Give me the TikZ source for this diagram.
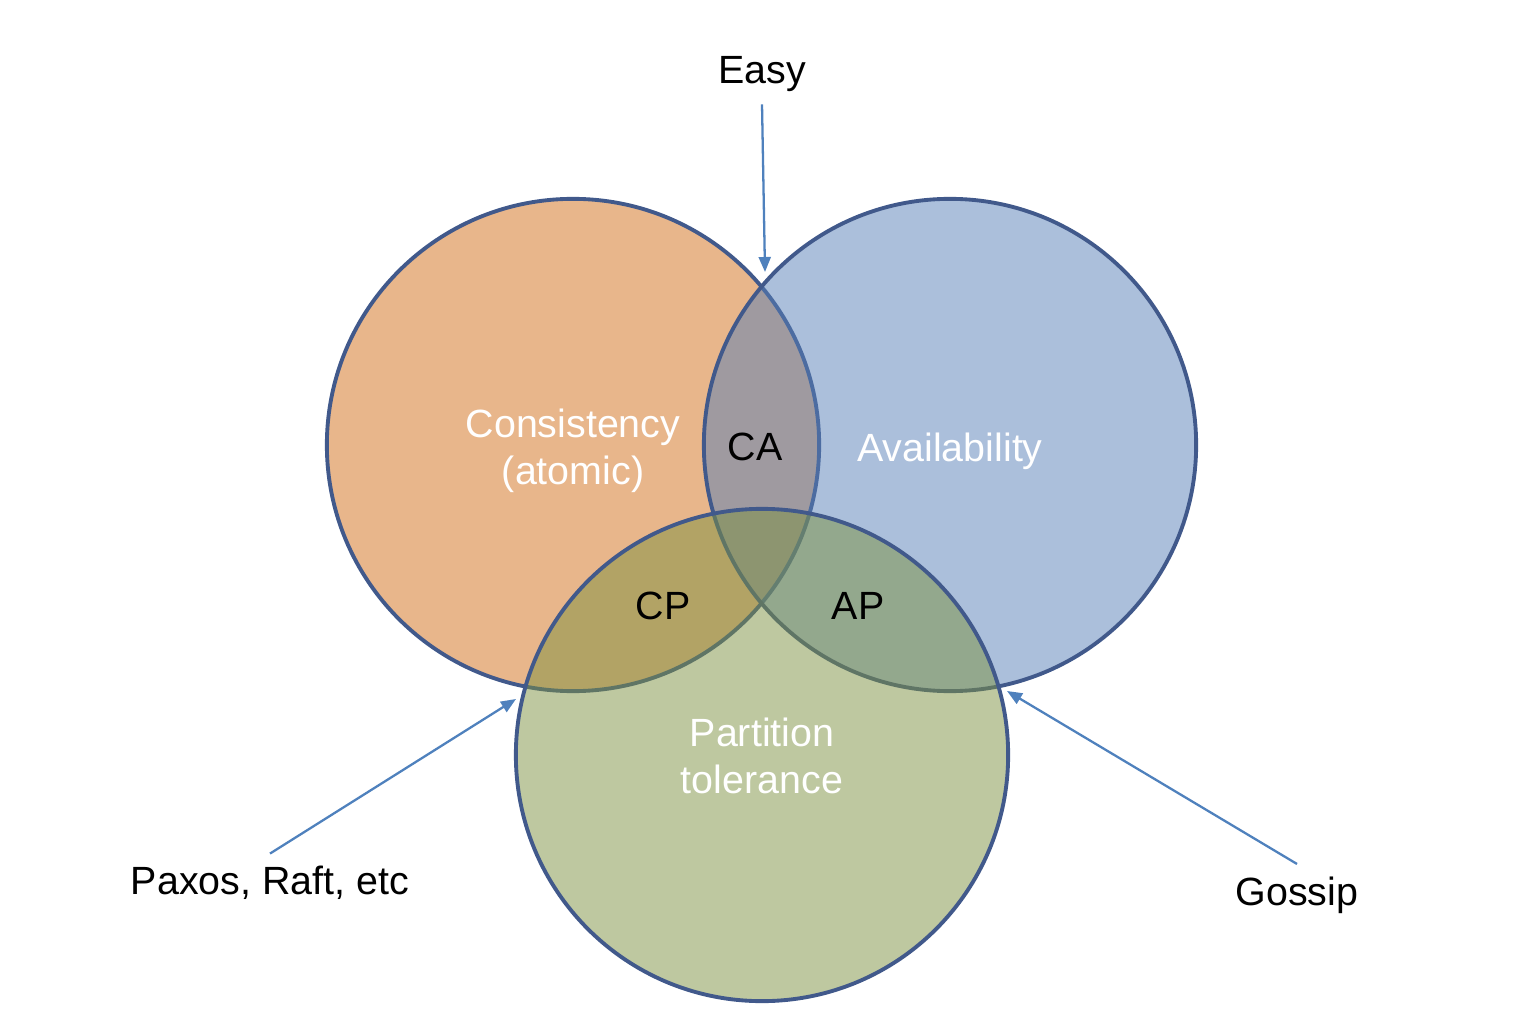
\documentclass[tikz,border=0pt]{standalone}
\usepackage{fontspec}
\setmainfont{Liberation Sans}
\usetikzlibrary{arrows.meta,positioning}

\definecolor{consfill}{RGB}{209,109,23}
\definecolor{availfill}{RGB}{87,127,183}
\definecolor{partfill}{RGB}{125,145,65}
\definecolor{ringline}{RGB}{65,89,139}
\definecolor{pointer}{RGB}{79,129,189}

\begin{document}
\begin{tikzpicture}
%CAP venn diagram
	[
	 	 %Styles
       x=0.01cm, y=-0.01cm,
       font=\fontsize{11.2}{13.4}\selectfont,
       set_node/.style={circle, minimum size=4.92cm, inner sep=0pt, outer sep=0pt,
                        draw=ringline, line width=1.1pt, fill opacity=0.5},
       region_label/.style={inner sep=1pt},
       note_label/.style={inner sep=3.4pt},
       pointer_edge/.style={draw=pointer, line width=0.65pt,
                            -{Triangle[length=0.15cm,width=0.12cm]}}
    ]
    \useasboundingbox (0,0) rectangle (1534,1034);

    %Sets
    \node (cons) [set_node, fill=consfill] at (573,445) {};
    \node (avail) [set_node, fill=availfill] at (950,445) {};
    \node (part) [set_node, fill=partfill] at (762,755) {};

    %Set names
    \node (consname) [region_label, text=white, align=center] at (573,451) {Consistency\\(atomic)};
    \node (availname) [region_label, text=white] at (950,451) {Availability};
    \node (partname) [region_label, text=white, align=center] at (762,756) {Partition\\tolerance};

    %Intersections
    \node (ca) [region_label] at (755,447) {CA};
    \node (cp) [region_label] at (663,606) {CP};
    \node (ap) [region_label] at (858,606) {AP};

    %Notes
    \node (easy) [note_label] at (762,74) {Easy};
    \node (paxos) [note_label] at (270,883) {Paxos, Raft, etc};
    \node (gossip) [note_label] at (1297,895) {Gossip};
    \coordinate (easytip) at (765,272);
    \coordinate (paxostip) at (516,699);
    \coordinate (gossiptip) at (1007,691);

    %Edges
    \path
       (easy.south) edge [pointer_edge] (easytip)
       (paxos.north) edge [pointer_edge] (paxostip)
       (gossip.north) edge [pointer_edge] (gossiptip);
\end{tikzpicture}
\end{document}
